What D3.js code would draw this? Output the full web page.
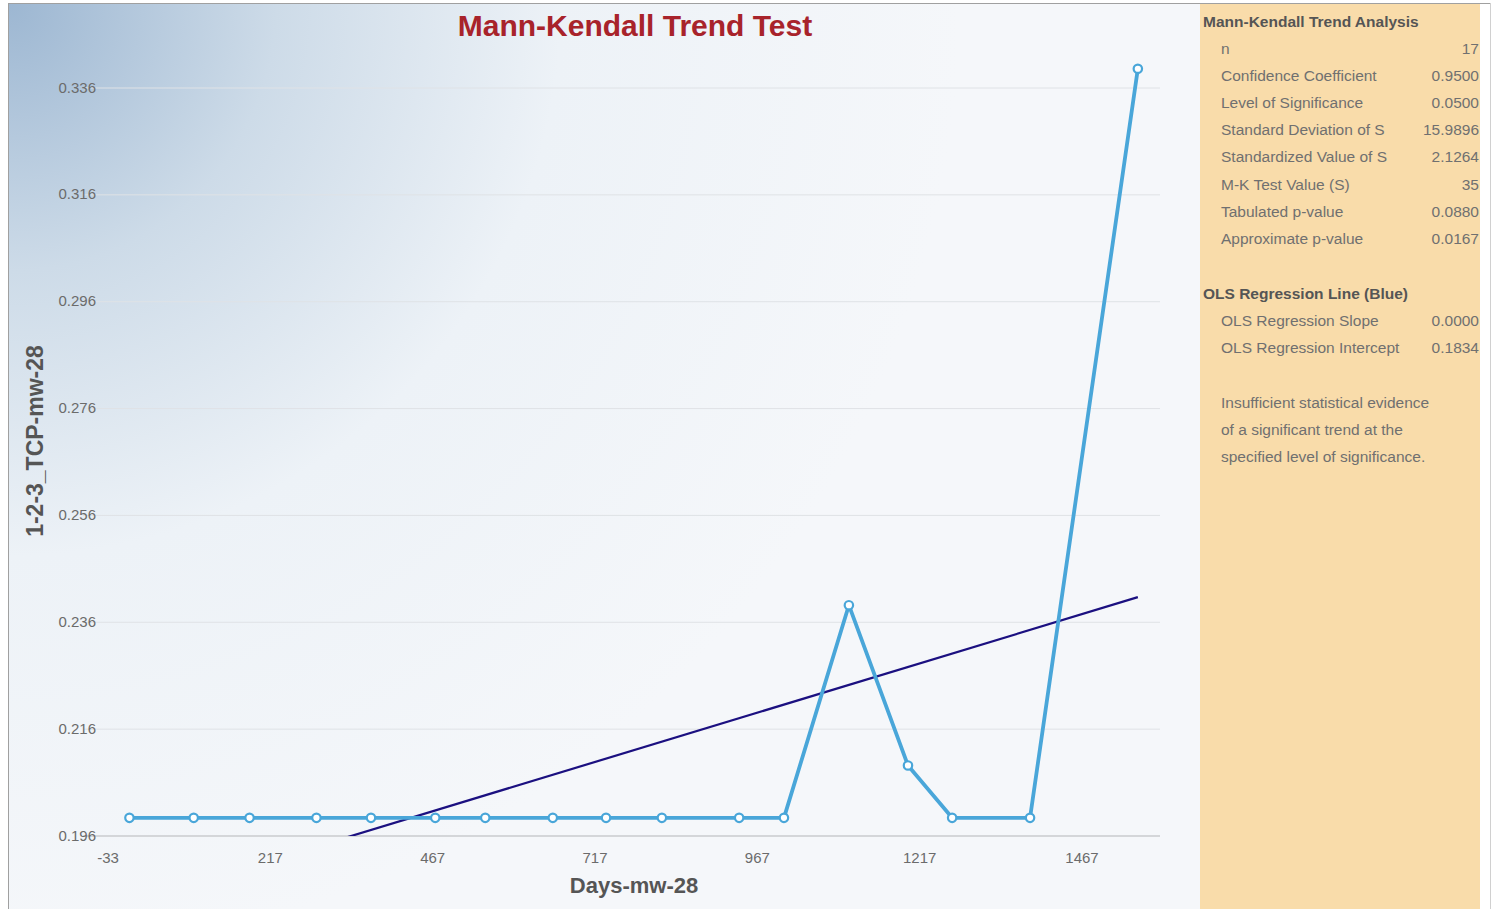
<!DOCTYPE html>
<html>
<head>
<meta charset="utf-8">
<script src="https://cdn.jsdelivr.net/npm/d3@7"></script>
<style>
  html, body { margin: 0; padding: 0; background: #ffffff; }
  svg { display: block; }
  text { font-family: "Liberation Sans", Arial, sans-serif; }
</style>
</head>
<body>
<svg id="chart" width="1498" height="909"></svg>
<script>
// Sampling days and measured concentrations for well mw-28
const days = [0, 99, 185, 288, 372, 471, 548, 652, 734, 820, 939, 1008, 1108, 1199, 1267, 1387, 1553];
const values = [0.1994, 0.1994, 0.1994, 0.1994, 0.1994, 0.1994, 0.1994, 0.1994, 0.1994, 0.1994, 0.1994, 0.1994,
                0.2392, 0.2092, 0.1994, 0.1994, 0.3396];

// Axis ticks
const xTicks = [-33, 217, 467, 717, 967, 1217, 1467];
const yTicks = [0.196, 0.216, 0.236, 0.256, 0.276, 0.296, 0.316, 0.336];

// OLS regression line (drawn in navy)
const olsIntercept = 0.1834;
const olsSlope = 0.0000369;

// Summary panel content
const mkLabels = ["n", "Confidence Coefficient", "Level of Significance", "Standard Deviation of S",
                  "Standardized Value of S", "M-K Test Value (S)", "Tabulated p-value", "Approximate p-value"];
const mkValues = ["17", "0.9500", "0.0500", "15.9896", "2.1264", "35", "0.0880", "0.0167"];
const olsLabels = ["OLS Regression Slope", "OLS Regression Intercept"];
const olsValues = ["0.0000", "0.1834"];
const conclusion = ["Insufficient statistical evidence", "of a significant trend at the", "specified level of significance."];

const svg = d3.select("#chart");
const defs = svg.append("defs");

// Soft blue wash fading out from the top-left corner
const grad = defs.append("radialGradient")
  .attr("id", "bgWash").attr("gradientUnits", "userSpaceOnUse")
  .attr("cx", 10).attr("cy", 5).attr("r", 950);
grad.append("stop").attr("offset", "0%").attr("stop-color", "#9db7d2");
grad.append("stop").attr("offset", "28%").attr("stop-color", "#cddbe8");
grad.append("stop").attr("offset", "58%").attr("stop-color", "#edf2f7");
grad.append("stop").attr("offset", "100%").attr("stop-color", "#f5f7fa");

svg.append("rect").attr("x", 8).attr("y", 4).attr("width", 1192).attr("height", 905)
  .attr("fill", "url(#bgWash)");

// Frame lines
svg.append("line").attr("x1", 8).attr("x2", 1490).attr("y1", 3.5).attr("y2", 3.5)
  .attr("stroke", "#a0a0a0").attr("stroke-width", 1);
svg.append("line").attr("x1", 8.5).attr("x2", 8.5).attr("y1", 3).attr("y2", 909)
  .attr("stroke", "#a0a0a0").attr("stroke-width", 1);
svg.append("line").attr("x1", 1490.5).attr("x2", 1490.5).attr("y1", 3).attr("y2", 909)
  .attr("stroke", "#d0d0d0").attr("stroke-width", 1);

// Scales
const x = d3.scaleLinear().domain([-33, 1467]).range([108, 1082]);
const y = d3.scaleLinear().domain([0.196, 0.336]).range([836, 88]);
const plotLeft = 83, plotRight = 1160;

// Gridlines
svg.append("g").selectAll("line").data(yTicks).join("line")
  .attr("x1", plotLeft).attr("x2", plotRight)
  .attr("y1", d => y(d)).attr("y2", d => y(d))
  .attr("stroke", (d, i) => i === 0 ? "#d4d6d9" : "#dfe2e6")
  .attr("stroke-width", (d, i) => i === 0 ? 2 : 1);

// Y tick labels
svg.append("g").selectAll("text").data(yTicks).join("text")
  .attr("x", 96).attr("y", d => y(d) - 1)
  .attr("text-anchor", "end").attr("dominant-baseline", "central")
  .attr("font-size", 15).attr("fill", "#6b6b6b")
  .text(d => d3.format(".3f")(d));

// X tick labels
svg.append("g").selectAll("text").data(xTicks).join("text")
  .attr("x", d => x(d)).attr("y", 857)
  .attr("text-anchor", "middle").attr("dominant-baseline", "central")
  .attr("font-size", 15).attr("fill", "#6b6b6b")
  .text(d => d);

// Title and axis titles
svg.append("text").attr("x", 635).attr("y", 25)
  .attr("text-anchor", "middle").attr("dominant-baseline", "central")
  .attr("font-size", 30).attr("font-weight", "bold").attr("fill", "#a8232b")
  .text("Mann-Kendall Trend Test");

svg.append("text").attr("x", 634).attr("y", 885)
  .attr("text-anchor", "middle").attr("dominant-baseline", "central")
  .attr("font-size", 22).attr("font-weight", "bold").attr("fill", "#555555")
  .text("Days-mw-28");

svg.append("text")
  .attr("transform", "translate(35,441) rotate(-90)")
  .attr("text-anchor", "middle").attr("dominant-baseline", "central")
  .attr("font-size", 23).attr("font-weight", "bold").attr("fill", "#555555")
  .text("1-2-3_TCP-mw-28");

// Clip marks to the plotting area
defs.append("clipPath").attr("id", "plotClip")
  .append("rect").attr("x", plotLeft).attr("y", 40)
  .attr("width", plotRight - plotLeft).attr("height", y(0.196) - 40);

// Regression line from first to last sampling day
const regX = d3.extent(days);
svg.append("line")
  .attr("clip-path", "url(#plotClip)")
  .attr("x1", x(regX[0])).attr("y1", y(olsIntercept + olsSlope * regX[0]))
  .attr("x2", x(regX[1])).attr("y2", y(olsIntercept + olsSlope * regX[1]))
  .attr("stroke", "#1b1080").attr("stroke-width", 2.2);

// Data series
const pts = days.map((d, i) => ({ d, v: values[i] }));
svg.append("path").datum(pts)
  .attr("fill", "none").attr("stroke", "#49a6d9").attr("stroke-width", 3.8)
  .attr("stroke-linejoin", "round")
  .attr("d", d3.line().x(p => x(p.d)).y(p => y(p.v)));

svg.append("g").selectAll("circle").data(pts).join("circle")
  .attr("cx", p => x(p.d)).attr("cy", p => y(p.v)).attr("r", 4.2)
  .attr("fill", "#ffffff").attr("stroke", "#49a6d9").attr("stroke-width", 2.2);

// Summary panel
const panel = svg.append("g");
panel.append("rect").attr("x", 1200).attr("y", 4).attr("width", 280).attr("height", 905)
  .attr("fill", "#f9dcaa");

const labelX = 1221, valueX = 1479, rowStep = 27.2, fs = 15.5;
panel.append("text").attr("x", 1203).attr("y", 21)
  .attr("dominant-baseline", "central").attr("font-size", fs).attr("font-weight", "bold")
  .attr("fill", "#555555")
  .text("Mann-Kendall Trend Analysis");

mkLabels.forEach((lbl, i) => {
  const yy = 48 + i * rowStep;
  panel.append("text").attr("x", labelX).attr("y", yy).attr("dominant-baseline", "central")
    .attr("font-size", fs).attr("fill", "#707070").text(lbl);
  panel.append("text").attr("x", valueX).attr("y", yy).attr("dominant-baseline", "central")
    .attr("text-anchor", "end").attr("font-size", fs)
    .attr("fill", "#707070").text(mkValues[i]);
});

panel.append("text").attr("x", 1203).attr("y", 293)
  .attr("dominant-baseline", "central").attr("font-size", fs).attr("font-weight", "bold")
  .attr("fill", "#555555")
  .text("OLS Regression Line (Blue)");

olsLabels.forEach((lbl, i) => {
  const yy = 320 + i * rowStep;
  panel.append("text").attr("x", labelX).attr("y", yy).attr("dominant-baseline", "central")
    .attr("font-size", fs).attr("fill", "#707070").text(lbl);
  panel.append("text").attr("x", valueX).attr("y", yy).attr("dominant-baseline", "central")
    .attr("text-anchor", "end").attr("font-size", fs)
    .attr("fill", "#707070").text(olsValues[i]);
});

conclusion.forEach((line, i) => {
  panel.append("text").attr("x", labelX).attr("y", 402 + i * rowStep).attr("dominant-baseline", "central")
    .attr("font-size", fs).attr("fill", "#707070").text(line);
});
</script>
</body>
</html>
